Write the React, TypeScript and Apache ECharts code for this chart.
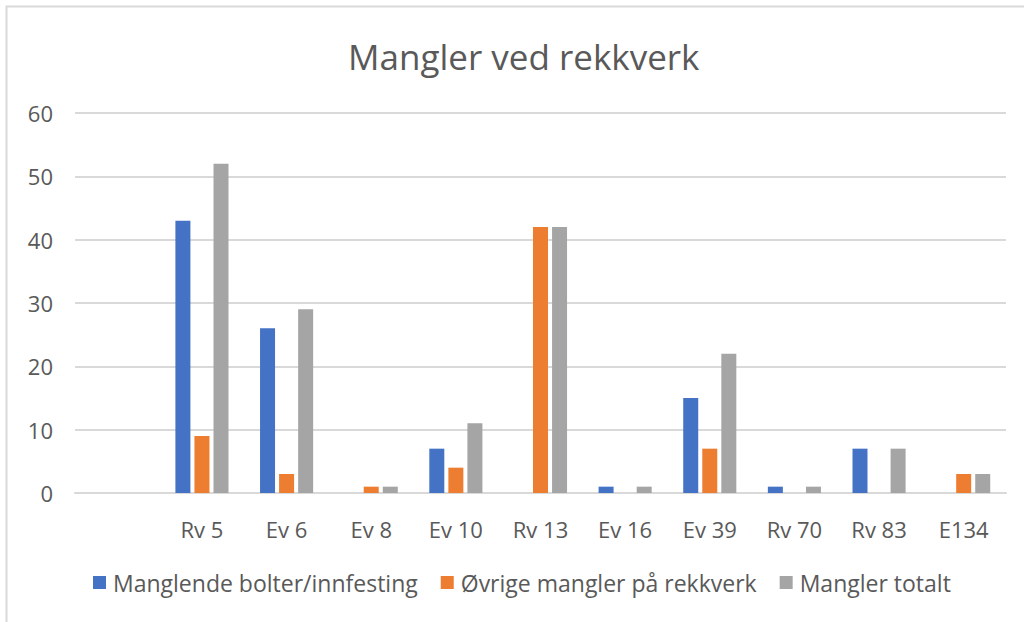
import React, { useEffect, useRef } from "react";
import * as echarts from "echarts";

const categories = ["", "Rv 5", "Ev 6", "Ev 8", "Ev 10", "Rv 13", "Ev 16", "Ev 39", "Rv 70", "Rv 83", "E134"];
const bolter = [null, 43, 26, 0, 7, 0, 1, 15, 1, 7, 0];
const ovrige = [null, 9, 3, 1, 4, 42, 0, 7, 0, 0, 3];
const totalt = [null, 52, 29, 1, 11, 42, 1, 22, 1, 7, 3];
const seriesNames = ["Manglende bolter/innfesting", "Øvrige mangler på rekkverk", "Mangler totalt"];
const colors = ["#4472C4", "#ED7D31", "#A5A5A5"];
const titleText = "Mangler ved rekkverk";

const FONT = "'Open Sans', sans-serif";

export default function App() {
  const ref = useRef<HTMLDivElement>(null);
  useEffect(() => {
    if (!ref.current) return;
    const chart = echarts.init(ref.current, undefined, { renderer: "svg" });
    const mk = (name: string, data: (number | null)[], color: string) => ({
      name,
      type: "bar",
      data,
      barWidth: 15,
      barGap: "27%",
      itemStyle: { color },
    });
    chart.setOption({
      animation: false,
      backgroundColor: "#ffffff",
      textStyle: { fontFamily: FONT },
      title: {
        text: titleText,
        left: 343,
        top: 34,
        textStyle: { fontFamily: FONT, fontSize: 35, fontWeight: "normal", color: "#595959" },
      },
      graphic: [
        {
          type: "rect",
          shape: { x: 6.5, y: 6.5, width: 1100, height: 700 },
          style: { fill: "none", stroke: "#d9d9d9", lineWidth: 2 },
          silent: true,
        },
      ],
      legend: {
        top: 566,
        left: 88,
        itemWidth: 13,
        itemHeight: 13,
        itemGap: 23,
        icon: "rect",
        textStyle: { fontFamily: FONT, fontSize: 23, color: "#595959", padding: [0, 0, 0, 2] },
        data: seriesNames,
      },
      grid: { left: 75, right: 18, top: 113, bottom: 129 },
      xAxis: {
        type: "category",
        data: categories,
        axisLine: { lineStyle: { color: "#d9d9d9", width: 2 } },
        axisTick: { show: false },
        axisLabel: { fontFamily: FONT, fontSize: 22, color: "#595959", margin: 25, interval: 0 },
      },
      yAxis: {
        type: "value",
        min: 0,
        max: 60,
        interval: 10,
        axisLine: { show: false },
        axisTick: { show: false },
        splitLine: { lineStyle: { color: "#d9d9d9", width: 2 } },
        axisLabel: { fontFamily: FONT, fontSize: 22, color: "#595959", margin: 22 },
      },
      series: [
        mk(seriesNames[0], bolter, colors[0]),
        mk(seriesNames[1], ovrige, colors[1]),
        mk(seriesNames[2], totalt, colors[2]),
      ],
    });
    return () => chart.dispose();
  }, []);
  return <div ref={ref} style={{ position: "absolute", left: 0, top: 0, width: 1024, height: 622 }} />;
}
